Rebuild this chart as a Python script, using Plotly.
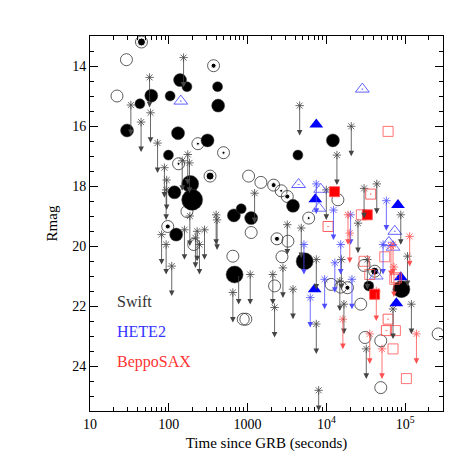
import numpy as np
import plotly.graph_objects as go

FONT = "Liberation Serif"

# Swift detections: filled circles (time s, Rmag, size class)
swift_fill_t = [139, 170, 416, 60, 104, 43, 423, 29.5, 131, 310, 99, 187, 118, 198,
                670, 830, 1110, 124, 684, 12100, 4350, 3770, 5300, 34500, 89600]
swift_fill_m = [14.47, 14.69, 14.69, 14.99, 15.0, 15.26, 15.32, 16.15, 16.24, 16.48,
                16.97, 17.93, 18.21, 18.46, 18.98, 18.76, 19.07, 19.62, 20.95, 16.48,
                16.97, 18.66, 20.51, 21.33, 21.44]
swift_fill_cls = [2, 1, 1, 2, 1, 1, 2, 2, 2, 2, 1, 3, 2, 4, 2, 1, 2, 2, 3, 2, 1, 2, 3, 1, 3]

# Swift open circles
swift_open_t = [29, 22, 170, 207, 1030, 1475, 1110, 650, 880, 950, 14000, 3250, 2730,
                2200, 15200, 11500, 27300, 30100, 30900, 49000, 49000, 262000]
swift_open_m = [13.79, 15.0, 18.85, 19.95, 17.67, 17.88, 19.55, 20.34, 22.44, 22.44,
                18.46, 19.84, 20.36, 21.33, 21.37, 21.28, 21.94, 20.65, 23.05, 23.16,
                24.72, 22.93]

# Swift circle with dot (dot class = dot size)
swift_dot_t = [45, 370, 234, 495, 133, 334, 97, 2140, 2670, 3190, 5960, 2360, 18500, 41000]
swift_dot_m = [13.2, 13.99, 16.59, 16.89, 17.26, 17.67, 19.35, 17.97, 18.16, 18.35,
               19.07, 19.76, 21.39, 20.84]
swift_dot_cls = [3, 2, 1, 1, 1, 3, 2, 2, 1, 2, 1, 2, 2, 3]

# Swift upper limits
swift_ul_t = [154, 57, 58.6, 33, 44.5, 72, 174, 148, 183, 88, 94, 92.5, 81, 92.5, 109,
              158, 185, 229, 218, 245, 284, 399, 410, 1227, 1080, 650, 770, 4580,
              20700, 13600, 9980, 30100, 43600, 87900, 25200, 3190, 4800, 107000,
              7450, 2090, 2810, 3770, 2200, 7450, 14800, 16700, 32100, 70100, 120000,
              7980, 33100, 15500]
swift_ul_m = [13.72, 14.38, 15.56, 15.3, 15.87, 16.57, 16.95, 17.16, 17.23, 17.39, 17.8,
              18.13, 19.62, 19.95, 20.67, 19.46, 19.0, 19.51, 19.73, 19.95, 19.46,
              18.96, 19.13, 18.24, 20.95, 21.55, 20.95, 15.32, 16.01, 16.97, 18.13,
              18.08, 17.93, 18.96, 19.24, 19.29, 19.4, 20.34, 20.45, 20.95, 20.73,
              21.44, 22.05, 22.6, 21.17, 21.94, 23.43, 22.1, 21.94, 24.81, 20.45, 20.45]

# HETE2
hete_fill_t = [7450, 7230, 81000, 7100, 87900, 77300]
hete_fill_m = [15.95, 18.44, 18.63, 21.44, 21.04, 21.91]
hete_dot_t = [142, 28600, 4440, 73800, 62000]
hete_dot_m = [15.17, 14.77, 17.95, 19.51, 19.88]
hete_open_t = [8470, 8050, 70100, 43000]
hete_open_m = [18.11, 18.74, 20.04, 21.0]
hete_ul_t = [7450, 12300, 57700, 20300, 52400, 5190, 6240, 9500, 12800, 15200, 21100]
hete_ul_m = [17.93, 18.8, 18.49, 18.96, 19.95, 19.95, 21.72, 21.11, 20.56, 19.95, 21.11]

# BeppoSAX
sax_fill_t = [12700, 33100, 41000]
sax_fill_m = [18.19, 18.96, 21.61]
sax_open_t = [60700, 27800, 55100, 30100, 35500, 75100, 70100, 103500, 73800]
sax_open_m = [16.18, 18.96, 20.36, 20.51, 20.95, 22.82, 23.43, 24.42, 21.11]
sax_dot_t = [36500, 10500, 60700, 57700, 77300]
sax_dot_m = [18.27, 19.35, 22.44, 22.82, 21.06]
sax_ul_t = [18800, 19800, 43000, 35500, 50800, 16200, 139000, 114000, 70100, 66000, 72000]
sax_ul_m = [18.96, 19.57, 21.5, 22.93, 23.43, 22.44, 22.93, 19.68, 19.95, 20.0, 20.7]

UL_DROP = 1.0  # length of upper-limit arrows in mag
FILL_SIZE = {1: 10, 2: 13, 3: 17, 4: 21}
DOT_SIZE = {1: 3, 2: 5, 3: 8}

SWIFT_C = "#333333"
HETE_C = "#4d4dff"
SAX_C = "#ff5050"

fig = go.Figure()


def add_limits(t, m, color):
    fig.add_trace(go.Scatter(x=t, y=m, mode="markers", cliponaxis=False,
                             marker=dict(symbol="asterisk-open", size=7, color=color,
                                         opacity=1, line=dict(color=color, width=0.8))))
    for ti, mi in zip(t, m):
        fig.add_annotation(x=np.log10(ti), y=min(mi + UL_DROP, 25.5),
                           ax=np.log10(ti), ay=mi, xref="x", yref="y",
                           axref="x", ayref="y", text="", showarrow=True,
                           arrowhead=2, arrowsize=1.4, arrowwidth=0.8,
                           arrowcolor=color, standoff=0, startstandoff=0)


add_limits(swift_ul_t, swift_ul_m, "#444444")
add_limits(hete_ul_t, hete_ul_m, HETE_C)
add_limits(sax_ul_t, sax_ul_m, SAX_C)

# Swift
fig.add_trace(go.Scatter(x=swift_open_t, y=swift_open_m, mode="markers",
                         marker=dict(symbol="circle-open", size=12, color=SWIFT_C, opacity=1,
                                     line=dict(width=0.8))))
fig.add_trace(go.Scatter(x=swift_dot_t, y=swift_dot_m, mode="markers",
                         marker=dict(symbol="circle-open", size=12, color=SWIFT_C, opacity=1,
                                     line=dict(width=0.8))))
fig.add_trace(go.Scatter(x=swift_dot_t, y=swift_dot_m, mode="markers",
                         marker=dict(symbol="circle", color="black", opacity=1,
                                     size=[DOT_SIZE[c] for c in swift_dot_cls])))
fig.add_trace(go.Scatter(x=swift_fill_t, y=swift_fill_m, mode="markers",
                         marker=dict(symbol="circle", color="black", opacity=1,
                                     size=[FILL_SIZE[c] for c in swift_fill_cls],
                                     line=dict(color="#444444", width=0.5))))

# HETE2
fig.add_trace(go.Scatter(x=hete_open_t, y=hete_open_m, mode="markers",
                         marker=dict(symbol="triangle-up-open", size=12, color=HETE_C,
                                     opacity=1, line=dict(width=0.8))))
fig.add_trace(go.Scatter(x=hete_dot_t, y=hete_dot_m, mode="markers",
                         marker=dict(symbol="triangle-up-open-dot", size=12, color=HETE_C,
                                     opacity=1, line=dict(width=0.9))))
fig.add_trace(go.Scatter(x=hete_fill_t, y=hete_fill_m, mode="markers",
                         marker=dict(symbol="triangle-up", size=12, color="#0000ff",
                                     opacity=1)))

# BeppoSAX
fig.add_trace(go.Scatter(x=sax_open_t, y=sax_open_m, mode="markers",
                         marker=dict(symbol="square-open", size=10, color=SAX_C,
                                     opacity=1, line=dict(width=0.8))))
fig.add_trace(go.Scatter(x=sax_dot_t, y=sax_dot_m, mode="markers",
                         marker=dict(symbol="square-open-dot", size=10, color=SAX_C,
                                     opacity=1, line=dict(width=0.9))))
fig.add_trace(go.Scatter(x=sax_fill_t, y=sax_fill_m, mode="markers",
                         marker=dict(symbol="square", size=10, color="#ff0000", opacity=1,
                                     line=dict(color=SAX_C, width=0.8))))

# text legend
for label, color, yp in [("Swift", "#333333", 0.291), ("HETE2", "#3333ff", 0.211),
                         ("BeppoSAX", "#ff3333", 0.131)]:
    fig.add_annotation(x=0.071, y=yp, xref="paper", yref="paper", text=label,
                       showarrow=False, xanchor="left", yanchor="middle",
                       font=dict(family=FONT, size=16, color=color))

minor_x = [k * 10 ** e for e in range(1, 6) for k in range(2, 10)]

fig.update_layout(
    width=463, height=463,
    margin=dict(l=82, r=28, t=28, b=60),
    paper_bgcolor="white", plot_bgcolor="white",
    showlegend=False,
    font=dict(family=FONT, size=14, color="black"),
    xaxis=dict(type="log", range=[1, 5.48], showgrid=False, zeroline=False,
               tickvals=[10, 100, 1000, 1e4, 1e5],
               ticktext=["10", "100", "1000", "10<sup>4</sup>", "10<sup>5</sup>"],
               ticks="inside", ticklen=8, tickcolor="black", mirror="allticks",
               showline=True, linecolor="black", linewidth=1,
               minor=dict(tickvals=minor_x, ticks="inside", ticklen=4,
                          tickcolor="black", showgrid=False),
               title=dict(text="Time since GRB (seconds)", standoff=6,
                          font=dict(family=FONT, size=15))),
    yaxis=dict(range=[25.5, 13], showgrid=False, zeroline=False,
               tick0=14, dtick=2, ticks="inside", ticklen=8, tickcolor="black",
               mirror="allticks", showline=True, linecolor="black", linewidth=1,
               minor=dict(dtick=0.5, ticks="inside", ticklen=4,
                          tickcolor="black", showgrid=False),
               title=dict(text="Rmag", standoff=10,
                          font=dict(family=FONT, size=15))),
)

fig.write_html("out.html")
